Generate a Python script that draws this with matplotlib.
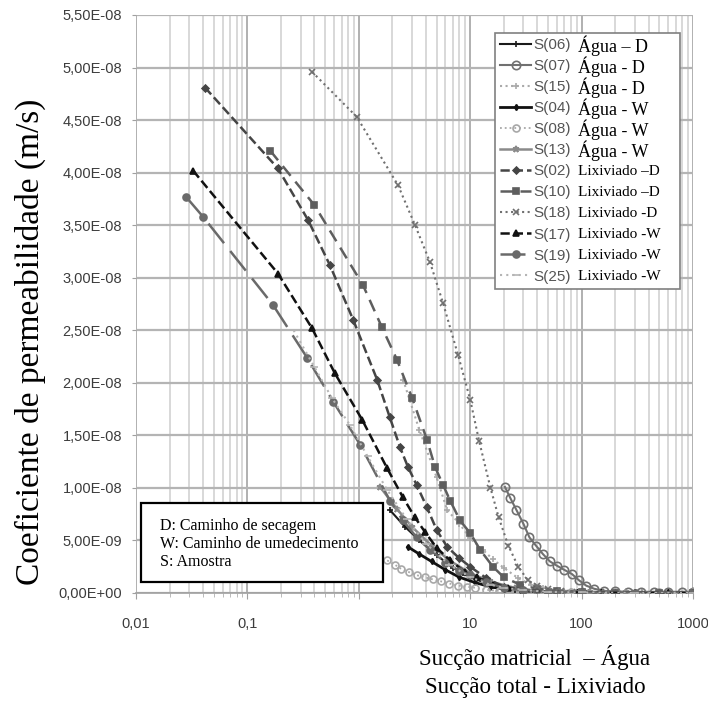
import matplotlib
matplotlib.use('Agg')
import matplotlib.pyplot as plt
from matplotlib.ticker import FixedLocator, FuncFormatter, LogLocator, NullFormatter
from matplotlib.patches import Rectangle

# dados (x = succao, y = k em 1e-8 m/s)
s06_x = [1.9, 2.6, 3.5, 5, 7, 10, 15, 25, 40, 70, 120, 200, 350, 600, 1000]
s06_y = [0.79, 0.63, 0.50, 0.36, 0.24, 0.15, 0.08, 0.03, 0.015, 0.01, 0.01, 0.01, 0.01, 0.01, 0.01]

s07_x = [20.5, 23, 26, 30, 34, 39, 45, 52, 60, 70, 82, 95, 110, 130, 160, 200, 260, 340, 450, 600, 800, 1000]
s07_y = [1.01, 0.90, 0.79, 0.66, 0.53, 0.45, 0.37, 0.30, 0.26, 0.22, 0.18, 0.12, 0.07, 0.04, 0.02, 0.015, 0.01, 0.01, 0.01, 0.01, 0.01, 0.01]

s15_x = [2.5, 3.5, 5, 6.2, 8, 10, 13, 16, 20, 27, 35, 45, 60, 80, 120, 200, 350, 600, 1000]
s15_y = [2.03, 1.55, 1.10, 0.79, 0.66, 0.52, 0.41, 0.32, 0.24, 0.14, 0.08, 0.05, 0.03, 0.02, 0.01, 0.01, 0.01, 0.01, 0.01]

s04_x = [2.75, 3.5, 4.5, 6, 8, 11, 15, 20, 30, 50, 90, 150, 300, 600, 1000]
s04_y = [0.44, 0.37, 0.30, 0.22, 0.15, 0.10, 0.06, 0.04, 0.02, 0.01, 0.01, 0.005, 0.005, 0.005, 0.005]

s08_x = [1.8, 2.1, 2.4, 2.8, 3.3, 3.9, 4.6, 5.5, 6.5, 7.8, 9.3, 11, 14, 18, 25, 40, 80, 200, 500, 1000]
s08_y = [0.31, 0.27, 0.23, 0.20, 0.17, 0.15, 0.13, 0.11, 0.09, 0.07, 0.06, 0.05, 0.03, 0.02, 0.015, 0.01, 0.01, 0.005, 0.005, 0.005]

s13_x = [1.55, 2.2, 3, 4.5, 6.5, 10, 15, 25, 40, 70, 120, 250, 500, 1000]
s13_y = [1.01, 0.80, 0.63, 0.45, 0.31, 0.19, 0.11, 0.05, 0.02, 0.01, 0.005, 0.005, 0.005, 0.005]

s02_x = [0.0416, 0.188, 0.35, 0.55, 0.89, 1.46, 1.9, 2.34, 2.76, 3.3, 4.07, 5.0, 6.2, 8, 10, 14, 20, 30, 50, 100, 200, 500, 1000]
s02_y = [4.81, 4.04, 3.55, 3.12, 2.60, 2.03, 1.67, 1.39, 1.20, 1.03, 0.82, 0.60, 0.44, 0.33, 0.25, 0.14, 0.06, 0.03, 0.01, 0.005, 0, 0, 0]

s10_x = [0.16, 0.40, 1.09, 1.61, 2.2, 3.0, 4.09, 4.83, 5.7, 6.6, 8.1, 10, 12.3, 16, 20, 28, 40, 60, 100, 200, 500, 1000]
s10_y = [4.21, 3.69, 2.93, 2.53, 2.22, 1.86, 1.46, 1.20, 1.03, 0.88, 0.69, 0.57, 0.41, 0.25, 0.15, 0.08, 0.04, 0.02, 0.01, 0, 0, 0]

s18_x = [0.38, 0.96, 2.25, 3.2, 4.35, 5.7, 7.8, 10, 12, 15.2, 18, 22, 27, 33, 40, 50, 65, 90, 150, 300, 600, 1000]
s18_y = [4.96, 4.53, 3.88, 3.50, 3.15, 2.76, 2.26, 1.84, 1.45, 1.0, 0.72, 0.45, 0.25, 0.12, 0.07, 0.04, 0.02, 0.01, 0.005, 0, 0, 0]

s17_x = [0.0325, 0.188, 0.38, 0.61, 1.07, 1.79, 2.49, 3.19, 3.93, 5, 6.6, 9, 11.5, 16, 22, 30, 50, 100, 300, 1000]
s17_y = [4.02, 3.04, 2.52, 2.09, 1.65, 1.19, 0.91, 0.72, 0.58, 0.43, 0.31, 0.20, 0.15, 0.08, 0.05, 0.03, 0.01, 0.005, 0, 0]

s19_x = [0.0281, 0.04, 0.17, 0.343, 0.59, 1.03, 1.9, 2.49, 3.3, 4.4, 6, 8, 10, 14, 20, 30, 50, 100, 300, 1000]
s19_y = [3.77, 3.58, 2.74, 2.24, 1.82, 1.41, 0.88, 0.69, 0.53, 0.41, 0.29, 0.21, 0.17, 0.10, 0.05, 0.03, 0.01, 0.005, 0, 0]

s25_x = [0.26, 0.4, 0.57, 0.83, 1.2, 1.8, 2.7, 4, 6.5, 10, 15, 20, 30, 50, 100, 300, 1000]
s25_y = [2.5, 2.15, 1.86, 1.6, 1.3, 0.98, 0.70, 0.47, 0.27, 0.15, 0.08, 0.05, 0.03, 0.01, 0.005, 0, 0]

nomes = ['S(06)', 'S(07)', 'S(15)', 'S(04)', 'S(08)', 'S(13)',
         'S(02)', 'S(10)', 'S(18)', 'S(17)', 'S(19)', 'S(25)']
sufixos = ['Água – D', 'Água - D', 'Água - D', 'Água - W', 'Água - W', 'Água - W',
           'Lixiviado –D', 'Lixiviado –D', 'Lixiviado -D', 'Lixiviado -W', 'Lixiviado -W', 'Lixiviado -W']

xs = [s06_x, s07_x, s15_x, s04_x, s08_x, s13_x, s02_x, s10_x, s18_x, s17_x, s19_x, s25_x]
ys = [s06_y, s07_y, s15_y, s04_y, s08_y, s13_y, s02_y, s10_y, s18_y, s17_y, s19_y, s25_y]

x_ticks = [0.01, 0.1, 1, 10, 100, 1000]
x_labels = ['0,01', '0,1', '', '10', '100', '1000']

# estilos: cor, linha, marcador, tam marcador, marcador vazado, espessura
estilos = [
    ('#1a1a1a', '-', '+', 5, False, 1.5),
    ('#707070', '-', 'o', 6, True, 1.5),
    ('#aaaaaa', ':', '+', 5, False, 1.5),
    ('#111111', '-', 'd', 3, False, 2.0),
    ('#a8a8a8', ':', 'o', 5, True, 1.3),
    ('#8a8a8a', '-', '*', 5, False, 1.8),
    ('#454545', '--', 'D', 3.5, False, 1.8),
    ('#5e5e5e', (0, (5, 3)), 's', 5, False, 1.8),
    ('#707070', ':', 'x', 5, False, 1.5),
    ('#111111', '--', '^', 5, False, 1.8),
    ('#6a6a6a', (0, (10, 4)), 'o', 5, False, 1.8),
    ('#b5b5b5', (0, (1, 2)), '_', 6, False, 1.5),
]

W, H = 708, 709
fig = plt.figure(figsize=(W / 100, H / 100), dpi=100)
ax = fig.add_axes([136 / W, 116 / H, 557 / W, 578 / H])

handles = []
for i in range(len(nomes)):
    cor, ls, mk, ms, vazado, lw = estilos[i]
    yy = [v * 1e-8 for v in ys[i]]
    h, = ax.plot(xs[i], yy, color=cor, linestyle=ls, marker=mk, markersize=ms,
                 markerfacecolor='none' if vazado else cor, markeredgecolor=cor,
                 linewidth=lw, markeredgewidth=1.2, zorder=3)
    handles.append(h)

ax.set_xscale('log')
ax.set_xlim(0.01, 1000)
ax.set_ylim(0, 5.5e-8)

ax.xaxis.set_major_locator(FixedLocator(x_ticks))
ax.xaxis.set_major_formatter(FuncFormatter(lambda v, p: x_labels[x_ticks.index(v)] if v in x_ticks else ''))
ax.xaxis.set_minor_locator(LogLocator(base=10, subs=range(2, 10)))
ax.xaxis.set_minor_formatter(NullFormatter())

ax.set_yticks([i * 0.5e-8 for i in range(12)])
ax.yaxis.set_major_formatter(FuncFormatter(lambda v, p: ('%.2E' % v).replace('.', ',')))

ax.grid(True, which='major', axis='y', color='#b4b4b4', linewidth=1.6)
ax.grid(True, which='major', axis='x', color='#b0b0b0', linewidth=1.4)
ax.grid(True, which='minor', axis='x', color='#d2d2d2', linewidth=1.2)
ax.set_axisbelow(True)

for lado in ['top', 'right', 'left']:
    ax.spines[lado].set_visible(False)
ax.spines['bottom'].set_color('#a0a0a0')
ax.spines['bottom'].set_linewidth(1.2)

ax.tick_params(axis='y', length=3, color='#a0a0a0', pad=7, labelsize=10.5, labelcolor='#3c3c3c')
ax.tick_params(axis='x', which='major', length=4, color='#a0a0a0', pad=13, labelsize=10.5, labelcolor='#3c3c3c')
ax.tick_params(axis='x', which='minor', length=3, color='#b0b0b0')
for t in ax.get_xticklabels() + ax.get_yticklabels():
    t.set_family('Liberation Sans')

leg = ax.legend(handles, nomes, loc='upper left', bbox_to_anchor=(0.6445, 0.5, 0.332, 0.469),
                mode='expand', borderaxespad=0, fancybox=False, framealpha=1,
                edgecolor='#808080', labelspacing=0.46, handlelength=2.0, handletextpad=0.15,
                borderpad=0.35, prop={'family': 'Liberation Sans', 'size': 11})
leg.get_frame().set_linewidth(1.2)
leg.set_zorder(10)
for t in leg.get_texts():
    t.set_color('#555555')

# caixa com a legenda das siglas
ax.add_patch(Rectangle((0.009, 0.019), 0.4345, 0.1367, transform=ax.transAxes,
                       facecolor='white', edgecolor='black', linewidth=1.6, zorder=8))
ax.text(0.043, 0.0848, 'D: Caminho de secagem\nW: Caminho de umedecimento\nS: Amostra',
        transform=ax.transAxes, va='center', ha='left', family='Liberation Serif',
        fontsize=11.5, linespacing=1.15, zorder=9)

fig.text(30 / W, 1 - 342 / H, 'Coeficiente de permeabilidade (m/s)', rotation=90,
         ha='center', va='center', family='Liberation Serif', fontsize=24)
fig.text(535 / W, 1 - 657 / H, 'Sucção matricial  – Água', ha='center', va='center',
         family='Liberation Serif', fontsize=16.5)
fig.text(535 / W, 1 - 688 / H, 'Sucção total - Lixiviado', ha='center', va='center',
         family='Liberation Serif', fontsize=16.5)

# texto serifado ao lado de cada S(..) da legenda
fig.canvas.draw()
for t, suf in zip(leg.get_texts(), sufixos):
    bb = t.get_window_extent()
    tam = 13 if suf.startswith('Água') else 11
    fig.text((bb.x1 + 7) / W, (bb.y0 + bb.y1) / 2 / H, suf, ha='left', va='center',
             family='Liberation Serif', fontsize=tam, zorder=20)

fig.savefig('out.png', dpi=100)
